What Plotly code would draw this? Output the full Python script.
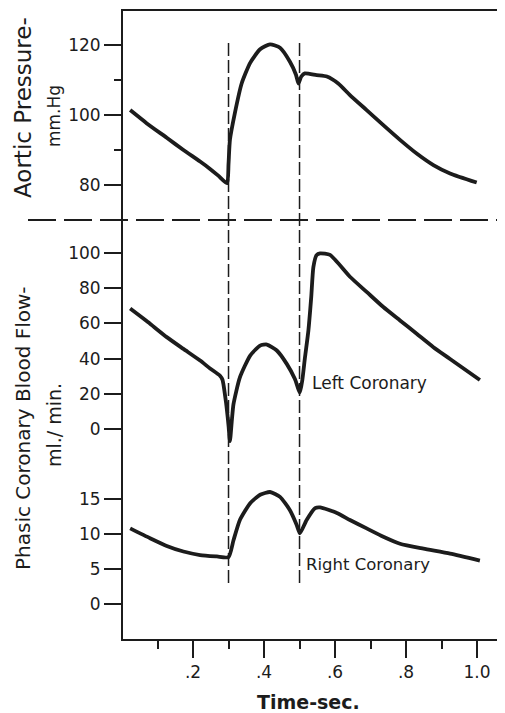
import plotly.graph_objects as go

# ---------------- data ----------------
aortic_t = [0.023, 0.07, 0.126, 0.173, 0.22, 0.248, 0.272, 0.296, 0.300, 0.304, 0.318, 0.337,
            0.361, 0.389, 0.417, 0.445, 0.473, 0.490, 0.497, 0.505, 0.515, 0.548, 0.577,
            0.609, 0.642, 0.689, 0.736, 0.783, 0.830, 0.877, 0.924, 0.999]
aortic_p = [101.4, 97.6, 93.5, 90.0, 86.7, 84.6, 82.6, 80.5, 86.0, 92.9, 100.6, 109.0,
            114.9, 118.8, 120.2, 119.2, 115.2, 111.5, 109.0, 111.0, 111.9, 111.4, 111.0,
            109.0, 105.7, 101.4, 97.1, 92.9, 89.0, 85.7, 83.3, 80.7]

left_t = [0.023, 0.079, 0.126, 0.173, 0.22, 0.248, 0.276, 0.283, 0.293, 0.300, 0.304, 0.309,
          0.314, 0.332, 0.361, 0.389, 0.408, 0.436, 0.464, 0.487, 0.501, 0.508, 0.515,
          0.525, 0.533, 0.539, 0.548, 0.558, 0.586, 0.642, 0.689, 0.736, 0.783, 0.830,
          0.877, 0.924, 1.008]
left_q = [68.4, 59.8, 52.2, 45.5, 38.9, 34.4, 30.3, 28.0, 15.0, 2.0, -6.9, 4.0,
          14.1, 29.3, 41.7, 47.4, 48.0, 44.6, 37.0, 28.4, 20.7, 28.0, 40.0,
          56.0, 75.0, 92.0, 98.8, 99.8, 98.9, 86.5, 77.9, 69.3, 61.7, 54.1,
          46.5, 39.8, 27.8]

right_t = [0.023, 0.079, 0.126, 0.173, 0.22, 0.267, 0.300, 0.314, 0.332, 0.361,
           0.389, 0.417, 0.445, 0.473, 0.492, 0.501, 0.520, 0.544, 0.558, 0.605, 0.642,
           0.689, 0.736, 0.783, 0.849, 0.924, 1.008]
right_q = [10.8, 9.4, 8.3, 7.5, 7.0, 6.8, 6.7, 9.1, 12.0, 14.4,
           15.6, 16.0, 15.3, 13.4, 11.3, 10.1, 12.0, 13.7, 13.8, 13.0, 12.0,
           10.8, 9.6, 8.6, 7.9, 7.2, 6.2]

x_ticks = [0.2, 0.4, 0.6, 0.8, 1.0]
x_tick_text = [".2", ".4", ".6", ".8", "1.0"]
x_minor = [0.1, 0.3, 0.5, 0.7, 0.9]
p_ticks = [80, 100, 120]
p_minor = [90, 110]
l_ticks = [0, 20, 40, 60, 80, 100]
r_ticks = [0, 5, 10, 15]
event_times = [0.3, 0.5]

# ---------------- figure ----------------
INK = "#1c1c1c"
FONT = "DejaVu Sans"
OFF = 8                      # page body margin
W, H = 505 - OFF, 713 - OFF
L, R, T, B = 122 - OFF, 7, 10 - OFF, 73
ph = H - T - B  # 630
pw = W - L - R  # 376


def py(pix):
    """window pixel row -> paper fraction"""
    return (H - B - (pix - OFF)) / ph


def px(pix):
    """window pixel column -> paper fraction"""
    return (pix - OFF - L) / pw


split_top = py(220)
split_mid = py(464)

fig = go.Figure()
line = dict(color=INK, width=3.8, shape="spline", smoothing=0.55)
fig.add_trace(go.Scatter(x=aortic_t, y=aortic_p, mode="lines", line=line,
                         xaxis="x", yaxis="y", showlegend=False, hoverinfo="skip"))
fig.add_trace(go.Scatter(x=left_t, y=left_q, mode="lines", line=line,
                         xaxis="x", yaxis="y2", showlegend=False, hoverinfo="skip"))
fig.add_trace(go.Scatter(x=right_t, y=right_q, mode="lines", line=line,
                         xaxis="x", yaxis="y3", showlegend=False, hoverinfo="skip"))

tickfont = dict(family=FONT, size=17, color=INK)
common_y = dict(showgrid=False, zeroline=False, showline=False, anchor="x",
                ticks="outside", ticklen=17, tickwidth=2, tickcolor=INK,
                tickfont=tickfont, tickmode="array")
right_y = dict(showgrid=False, zeroline=False, showline=False, anchor="x", side="right",
               ticks="inside", ticklen=15, tickwidth=2, tickcolor=INK,
               showticklabels=False, tickmode="array")

top_range = [70, 130]
mid_range = [-19.89, 118.75]
bot_range = [-5.14, 20]

fig.update_layout(
    width=W, height=H,
    margin=dict(l=L, r=R, t=T, b=B),
    paper_bgcolor="white", plot_bgcolor="white",
    xaxis=dict(range=[0, 1.059], anchor="y3", showgrid=False, zeroline=False,
               showline=False, ticks="outside", ticklen=17, tickwidth=2,
               tickcolor=INK, tickmode="array", tickvals=x_ticks,
               ticktext=x_tick_text, tickfont=tickfont,
               minor=dict(tickmode="array", tickvals=x_minor, ticks="outside",
                          ticklen=8, tickwidth=2, tickcolor=INK)),
    yaxis=dict(domain=[split_top, 1], range=top_range, tickvals=p_ticks,
               minor=dict(tickmode="array", tickvals=p_minor, ticks="outside",
                          ticklen=7, tickwidth=2, tickcolor=INK),
               **common_y),
    yaxis2=dict(domain=[split_mid, split_top], range=mid_range, tickvals=l_ticks,
                **common_y),
    yaxis3=dict(domain=[0, split_mid], range=bot_range, tickvals=r_ticks,
                **common_y),
    yaxis4=dict(overlaying="y", range=top_range, tickvals=p_ticks, **right_y),
    yaxis5=dict(overlaying="y2", range=mid_range, tickvals=l_ticks, **right_y),
    yaxis6=dict(overlaying="y3", range=bot_range, tickvals=r_ticks, **right_y),
)

shapes = [
    dict(type="rect", xref="paper", yref="paper", x0=0, x1=1, y0=0, y1=1,
         line=dict(color=INK, width=2), layer="above"),
    dict(type="line", xref="paper", yref="paper", x0=px(28), x1=px(505),
         y0=split_top, y1=split_top, line=dict(color=INK, width=2, dash="28px,8px")),
]
for t in event_times:
    shapes.append(dict(type="line", xref="x", yref="paper", x0=t, x1=t,
                       y0=py(583), y1=py(43),
                       line=dict(color=INK, width=1.5, dash="13px,4px")))
fig.update_layout(shapes=shapes)

ann = [
    dict(text="Aortic Pressure-", xref="paper", yref="paper", x=px(23), y=py(108),
         textangle=-90, showarrow=False, font=dict(family=FONT, size=23, color=INK),
         xanchor="center", yanchor="middle"),
    dict(text="mm.Hg", xref="paper", yref="paper", x=px(54), y=py(116),
         textangle=-90, showarrow=False, font=dict(family=FONT, size=17, color=INK),
         xanchor="center", yanchor="middle"),
    dict(text="Phasic Coronary Blood Flow-", xref="paper", yref="paper", x=px(23),
         y=py(428), textangle=-90, showarrow=False,
         font=dict(family=FONT, size=20, color=INK), xanchor="center", yanchor="middle"),
    dict(text="ml./ min.", xref="paper", yref="paper", x=px(54), y=py(425),
         textangle=-90, showarrow=False, font=dict(family=FONT, size=19, color=INK),
         xanchor="center", yanchor="middle"),
    dict(text="Left Coronary", xref="x", yref="y2", x=0.53, y=26.1, showarrow=False,
         font=dict(family=FONT, size=17, color=INK), xanchor="left", yanchor="middle"),
    dict(text="Right Coronary", xref="x", yref="y3", x=0.513, y=5.6, showarrow=False,
         font=dict(family=FONT, size=16.5, color=INK), xanchor="left", yanchor="middle"),
    dict(text="<b>Time-sec.</b>", xref="paper", yref="paper", x=px(308), y=py(702),
         showarrow=False, font=dict(family=FONT, size=19, color=INK),
         xanchor="center", yanchor="middle"),
]
fig.update_layout(annotations=ann)

fig.write_html("out.html")
